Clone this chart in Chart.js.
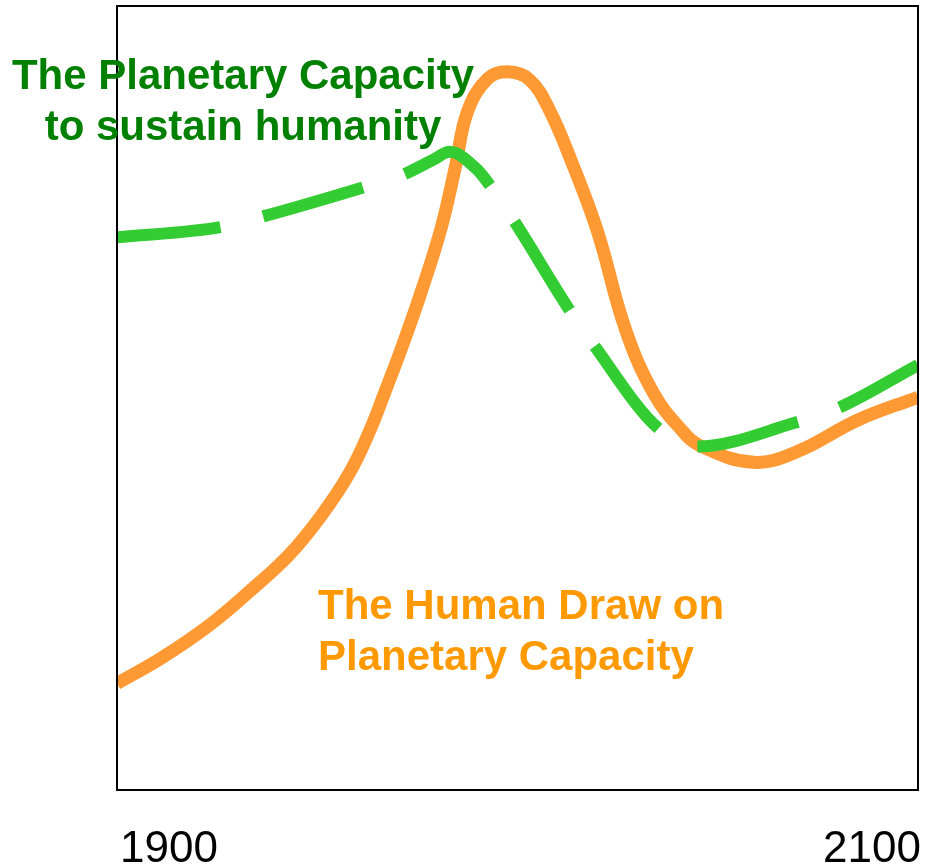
<!DOCTYPE html>
<html>
<head>
<meta charset="utf-8">
<script src="https://cdn.jsdelivr.net/npm/chart.js@4.4.0/dist/chart.umd.min.js"></script>
<style>
  html, body { margin: 0; padding: 0; background: #fff; }
  canvas { display: block; }
</style>
</head>
<body>
<canvas id="chart" width="937" height="865"></canvas>
<script>
// años y valores (escala vertical 0-100 arbitraria)
const tickYears = [1900, 2100];

const capacityYears  = [1900, 1926, 1936, 1961, 1971, 1979, 1983, 1990, 1993, 1999, 2013, 2019, 2035, 2045, 2069, 2080, 2100];
const capacityValues = [70.5, 71.8, 73.1, 76.8, 78.4, 80.4, 81.4, 79.1, 77.2, 72.7, 61.2, 56.8, 46.2, 43.8, 46.8, 48.7, 54.2];

const drawYears  = [1900, 1911, 1923, 1933, 1943, 1951, 1958, 1963, 1967, 1971, 1976, 1981, 1984.5, 1987.5, 1992.5, 1997.5, 2003, 2008, 2014, 2020, 2027, 2034, 2041, 2046, 2059, 2070, 2085, 2100];
const drawValues = [13.6, 16.8, 21.0, 25.3, 30.0, 35.0, 40.4, 45.7, 50.9, 56.3, 63.6, 71.8, 79.5, 86.5, 90.7, 91.6, 90.6, 86.7, 79.5, 71.2, 58.7, 50.6, 45.9, 43.8, 41.8, 43.2, 47.2, 50.1];

const capacityLabel = ['The Planetary Capacity', 'to sustain humanity'];
const drawLabel = ['The Human Draw on', 'Planetary Capacity'];

function toPoints(xs, ys) {
    return xs.map((x, i) => ({ x: x, y: ys[i] }));
}

// marco negro alrededor del área del gráfico
const boxPlugin = {
    id: 'box',
    afterDatasetsDraw: function(chart) {
        const a = chart.chartArea;
        const ctx = chart.ctx;
        ctx.save();
        ctx.strokeStyle = '#000';
        ctx.lineWidth = 2;
        ctx.strokeRect(a.left, a.top, a.right - a.left, a.bottom - a.top);
        ctx.restore();
    }
};

// textos de las curvas
const labelsPlugin = {
    id: 'curveLabels',
    afterDraw: function(chart) {
        const ctx = chart.ctx;
        ctx.save();
        ctx.font = 'bold 42px "Liberation Sans", Arial, sans-serif';
        ctx.textBaseline = 'alphabetic';

        ctx.fillStyle = '#008000';
        ctx.textAlign = 'center';
        ctx.fillText(capacityLabel[0], 243, 89);
        ctx.fillText(capacityLabel[1], 243, 140);

        ctx.fillStyle = '#FF9900';
        ctx.textAlign = 'left';
        ctx.fillText(drawLabel[0], 318, 619);
        ctx.fillText(drawLabel[1], 318, 670);
        ctx.restore();
    }
};

const ctx = document.getElementById('chart').getContext('2d');
const chart = new Chart(ctx, {
    type: 'line',
    data: {
        datasets: [{
            label: 'Planetary Capacity',
            data: toPoints(capacityYears, capacityValues),
            borderColor: '#33CC33',
            borderWidth: 12,
            borderDash: [104, 44],
            borderCapStyle: 'butt',
            cubicInterpolationMode: 'monotone',
            pointRadius: 0,
            fill: false
        }, {
            label: 'Human Draw',
            data: toPoints(drawYears, drawValues),
            borderColor: '#FF9933',
            borderWidth: 13,
            borderCapStyle: 'butt',
            tension: 0.4,
            pointRadius: 0,
            fill: false
        }]
    },
    options: {
        responsive: false,
        animation: false,
        events: [],
        layout: {
            padding: { left: 117, right: 19, top: 6, bottom: 0 }
        },
        scales: {
            x: {
                type: 'linear',
                min: 1900,
                max: 2100,
                afterBuildTicks: function(scale) {
                    scale.ticks = tickYears.map(v => ({ value: v }));
                },
                afterFit: function(scale) {
                    scale.height = 75;
                    scale.paddingLeft = 0;
                    scale.paddingRight = 0;
                },
                grid: { display: false },
                border: { display: false },
                ticks: {
                    color: '#000',
                    align: 'inner',
                    labelOffset: 3,
                    padding: 25,
                    maxRotation: 0,
                    autoSkip: false,
                    font: { family: '"Liberation Sans", Arial, sans-serif', size: 44 },
                    callback: function(value) { return String(value); }
                }
            },
            y: {
                display: false,
                min: 0,
                max: 100
            }
        },
        plugins: {
            legend: { display: false },
            tooltip: { enabled: false }
        }
    },
    plugins: [boxPlugin, labelsPlugin]
});
</script>
</body>
</html>
